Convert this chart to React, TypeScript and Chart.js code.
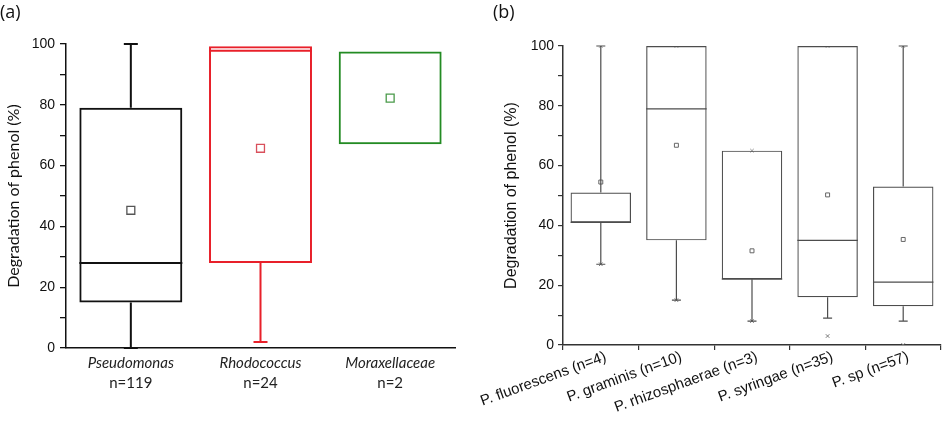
import React, { useEffect, useRef } from 'react';
import { Chart, registerables } from 'chart.js';

Chart.register(...registerables);

// ---------- Panel (a) data ----------
const CATS_A = ['Pseudomonas', 'Rhodococcus', 'Moraxellaceae'];
const COUNTS_A = ['n=119', 'n=24', 'n=2'];
const Q1_A = [15, 28, 67];
const MEDIAN_A: (number | null)[] = [28, 97.8, null];
const Q3_A = [79, 99.3, 97.5];
const WHISKER_LO_A: (number | null)[] = [0, 2, null];
const WHISKER_HI_A: (number | null)[] = [100, null, null];
const MEAN_A = [45.3, 65.7, 82.2];
const COLORS_A = ['#111111', '#e8202a', '#238b23'];
const MEAN_COLORS_A = ['#555555', '#d9505c', '#4a9a4a'];

// ---------- Panel (b) data ----------
const CATS_B = [
  'P. fluorescens (n=4)',
  'P. graminis (n=10)',
  'P. rhizosphaerae (n=3)',
  'P. syringae (n=35)',
  'P. sp (n=57)',
];
const Q1_B = [41, 35, 22, 16, 13];
const MEDIAN_B: (number | null)[] = [41, 79, 22, 35, 21];
const Q3_B = [51, 100, 65, 100, 53];
const WHISKER_LO_B: (number | null)[] = [27, 15, 8, 9, 8];
const WHISKER_HI_B: (number | null)[] = [100, 100, 65, 100, 100];
const MEAN_B = [54.5, 66.8, 31.5, 50.2, 35.3];
const MIN_MARK_B = [27, 15, 8, 3, 0];
const MAX_MARK_B = [100, 100, 65, 100, 100];

const Y_LABELLED = [0, 20, 40, 60, 80, 100];
const Y_TITLE = 'Degradation of phenol (%)';

function makeBoxPlugin(
  id: string,
  q1: number[],
  med: (number | null)[],
  q3: number[],
  lo: (number | null)[],
  hi: (number | null)[],
  colors: string[],
  lineWidth: number,
  capHalf: number
) {
  return {
    id,
    afterDatasetsDraw(chart: any) {
      const ctx = chart.ctx;
      const ys = chart.scales.y;
      const meta = chart.getDatasetMeta(0);
      ctx.save();
      ctx.lineWidth = lineWidth;
      ctx.lineCap = 'butt';
      meta.data.forEach((bar: any, i: number) => {
        const { x, width } = bar.getProps(['x', 'width'], true);
        const half = width / 2;
        ctx.strokeStyle = colors[i];
        const m = med[i];
        if (m != null) {
          const y = ys.getPixelForValue(m);
          ctx.beginPath();
          ctx.moveTo(x - half, y);
          ctx.lineTo(x + half, y);
          ctx.stroke();
        }
        const l = lo[i];
        if (l != null && l < q1[i]) {
          const yb = ys.getPixelForValue(q1[i]);
          const yl = ys.getPixelForValue(l);
          ctx.beginPath();
          ctx.moveTo(x, yb);
          ctx.lineTo(x, yl);
          ctx.moveTo(x - capHalf, yl);
          ctx.lineTo(x + capHalf, yl);
          ctx.stroke();
        }
        const h = hi[i];
        if (h != null && h > q3[i]) {
          const yt = ys.getPixelForValue(q3[i]);
          const yh = ys.getPixelForValue(h);
          ctx.beginPath();
          ctx.moveTo(x, yt);
          ctx.lineTo(x, yh);
          ctx.moveTo(x - capHalf, yh);
          ctx.lineTo(x + capHalf, yh);
          ctx.stroke();
        }
      });
      ctx.restore();
    },
  };
}

function PanelA() {
  const ref = useRef<HTMLCanvasElement>(null);
  useEffect(() => {
    const chart = new Chart(ref.current as HTMLCanvasElement, {
      type: 'bar',
      data: {
        labels: CATS_A,
        datasets: [
          {
            type: 'bar',
            data: Q1_A.map((v, i) => [v, Q3_A[i]]) as any,
            backgroundColor: 'rgba(0,0,0,0)',
            borderColor: COLORS_A,
            borderWidth: 2,
            borderSkipped: false,
            barPercentage: 0.794,
            categoryPercentage: 1,
          } as any,
          {
            type: 'line',
            data: MEAN_A,
            showLine: false,
            pointStyle: 'rect',
            pointRadius: 5.6,
            pointBorderWidth: 1.3,
            pointBorderColor: MEAN_COLORS_A,
            pointBackgroundColor: 'rgba(255,255,255,0)',
          } as any,
        ],
      },
      options: {
        responsive: false,
        animation: false,
        devicePixelRatio: 1,
        layout: { padding: { left: 0, right: 15, top: 44, bottom: 37 } },
        plugins: { legend: { display: false }, tooltip: { enabled: false } },
        scales: {
          x: {
            type: 'category',
            position: 'bottom',
            weight: 0,
            offset: true,
            grid: { display: false, drawTicks: false },
            border: { display: true, color: '#111', width: 1.5 },
            ticks: {
              color: '#222',
              padding: 6,
              font: { family: 'Lato', size: 15, style: 'italic' },
            },
            afterFit: (s: any) => {
              s.height = 24;
            },
          },
          x2: {
            type: 'category',
            position: 'bottom',
            weight: 1,
            labels: COUNTS_A,
            offset: true,
            grid: { display: false, drawTicks: false },
            border: { display: false },
            ticks: {
              color: '#222',
              padding: 2,
              font: { family: 'Lato', size: 15 },
            },
            afterFit: (s: any) => {
              s.height = 22;
            },
          },
          y: {
            min: 0,
            max: 100,
            grid: {
              display: true,
              drawOnChartArea: false,
              drawTicks: true,
              tickLength: 6,
              color: '#111',
              lineWidth: 1.3,
            },
            border: { display: true, color: '#111', width: 1.5 },
            ticks: {
              stepSize: 10,
              padding: 5,
              color: '#111',
              font: { family: 'Liberation Sans', size: 14 },
              callback: (v: any) => (Y_LABELLED.includes(Number(v)) ? String(v) : ''),
            },
            title: {
              display: true,
              text: Y_TITLE,
              color: '#111',
              padding: { top: 4, bottom: 4 },
              font: { family: 'Lato', size: 16 },
            },
            afterFit: (s: any) => {
              s.width = 66;
            },
          },
        },
      } as any,
      plugins: [
        makeBoxPlugin('boxA', Q1_A, MEDIAN_A, Q3_A, WHISKER_LO_A, WHISKER_HI_A, COLORS_A, 2, 7),
      ],
    });
    return () => chart.destroy();
  }, []);
  return (
    <canvas
      ref={ref}
      width={470}
      height={431}
      style={{ position: 'absolute', left: 0, top: 0, width: 470, height: 431 }}
    />
  );
}

function PanelB() {
  const ref = useRef<HTMLCanvasElement>(null);
  useEffect(() => {
    const boxColors = CATS_B.map(() => '#4d4d4d');
    const chart = new Chart(ref.current as HTMLCanvasElement, {
      type: 'bar',
      data: {
        labels: CATS_B,
        datasets: [
          {
            type: 'bar',
            data: Q1_B.map((v, i) => [v, Q3_B[i]]) as any,
            backgroundColor: 'rgba(0,0,0,0)',
            borderColor: '#4d4d4d',
            borderWidth: 1.2,
            borderSkipped: false,
            barPercentage: 0.8,
            categoryPercentage: 1,
          } as any,
          {
            type: 'line',
            data: MEAN_B,
            showLine: false,
            pointStyle: 'rect',
            pointRadius: 2.8,
            pointBorderWidth: 1,
            pointBorderColor: '#666',
            pointBackgroundColor: 'rgba(255,255,255,0)',
          } as any,
          {
            type: 'line',
            data: MIN_MARK_B,
            showLine: false,
            pointStyle: 'crossRot',
            pointRadius: 2.5,
            pointBorderWidth: 1,
            pointBorderColor: '#777',
          } as any,
          {
            type: 'line',
            data: MAX_MARK_B,
            showLine: false,
            pointStyle: 'crossRot',
            pointRadius: 2.5,
            pointBorderWidth: 1,
            pointBorderColor: '#999',
          } as any,
        ],
      },
      options: {
        responsive: false,
        animation: false,
        devicePixelRatio: 1,
        layout: { padding: { left: 58, right: 3, top: 46, bottom: 0 } },
        plugins: { legend: { display: false }, tooltip: { enabled: false } },
        scales: {
          x: {
            type: 'category',
            offset: true,
            grid: {
              display: true,
              offset: true,
              drawOnChartArea: false,
              drawTicks: true,
              tickLength: 5,
              color: '#333',
              lineWidth: 1.2,
            },
            border: { display: true, color: '#333', width: 1.5 },
            ticks: {
              autoSkip: false,
              minRotation: 20,
              maxRotation: 20,
              padding: -2,
              labelOffset: 5,
              color: '#111',
              font: { family: 'Liberation Sans', size: 15 },
            },
            afterFit: (s: any) => {
              s.height = 86;
            },
          },
          y: {
            min: 0,
            max: 100,
            grid: {
              display: true,
              drawOnChartArea: false,
              drawTicks: true,
              tickLength: 5,
              color: '#333',
              lineWidth: 1.2,
            },
            border: { display: true, color: '#333', width: 1.5 },
            ticks: {
              stepSize: 10,
              padding: 4,
              color: '#111',
              font: { family: 'Liberation Sans', size: 14 },
              callback: (v: any) => (Y_LABELLED.includes(Number(v)) ? String(v) : ''),
            },
            title: {
              display: true,
              text: Y_TITLE,
              color: '#111',
              padding: { top: 4, bottom: 4 },
              font: { family: 'Liberation Sans', size: 16 },
            },
            afterFit: (s: any) => {
              s.width = 65;
            },
          },
        },
      } as any,
      plugins: [
        makeBoxPlugin('boxB', Q1_B, MEDIAN_B, Q3_B, WHISKER_LO_B, WHISKER_HI_B, boxColors, 1.2, 4.5),
      ],
    });
    return () => chart.destroy();
  }, []);
  return (
    <canvas
      ref={ref}
      width={506}
      height={431}
      style={{ position: 'absolute', left: 440, top: 0, width: 506, height: 431 }}
    />
  );
}

export default function App() {
  const labelStyle: React.CSSProperties = {
    position: 'absolute',
    top: 0,
    fontFamily: 'Open Sans, sans-serif',
    fontSize: 18,
    lineHeight: '22px',
    color: '#111',
  };
  return (
    <div
      style={{
        position: 'fixed',
        left: 0,
        top: 0,
        width: 946,
        height: 431,
        background: '#fff',
        overflow: 'hidden',
      }}
    >
      <PanelA />
      <PanelB />
      <div style={{ ...labelStyle, left: 0 }}>(a)</div>
      <div style={{ ...labelStyle, left: 493 }}>(b)</div>
    </div>
  );
}
